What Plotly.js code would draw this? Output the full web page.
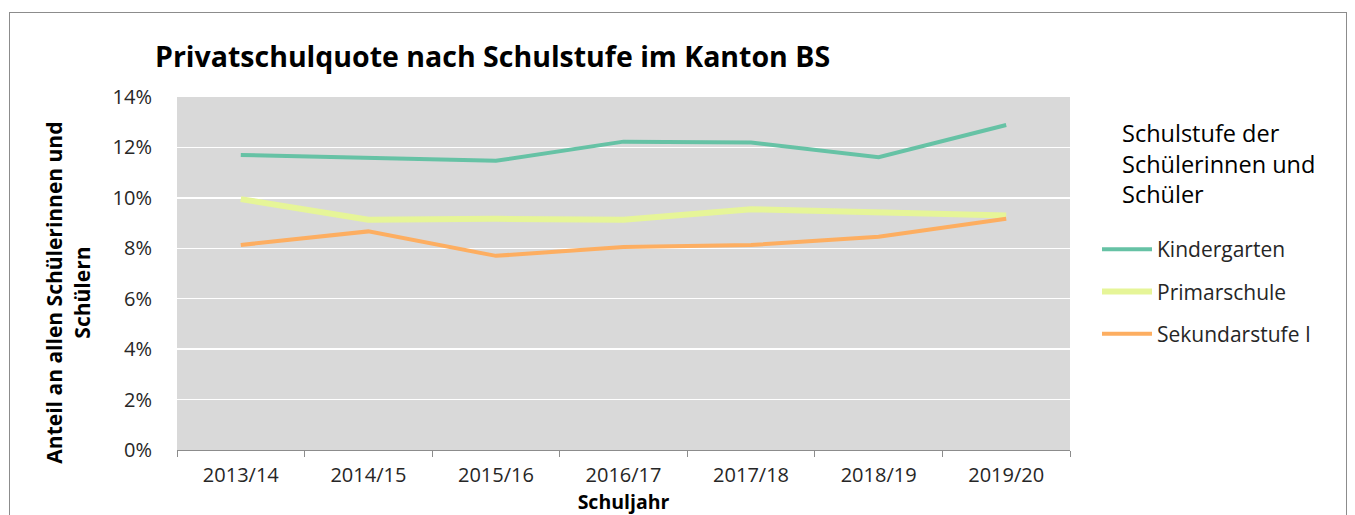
<!DOCTYPE html>
<html>
<head>
<meta charset="utf-8">
<script src="https://cdn.plot.ly/plotly-3.0.1.min.js"></script>
<style>
html,body{margin:0;padding:0;background:#fff;}
#frame{position:absolute;left:9px;top:12px;width:1338px;height:520px;border:1.5px solid #8c8c8c;box-sizing:border-box;}
#chart{position:absolute;left:0;top:0;width:1355px;height:515px;}
</style>
</head>
<body>
<div id="frame"></div>
<div id="chart"></div>
<script>
const years = ["2013/14","2014/15","2015/16","2016/17","2017/18","2018/19","2019/20"];
const kindergarten = [0.1170,0.1159,0.1147,0.1223,0.1220,0.1161,0.1289];
const primarschule = [0.0995,0.0913,0.0917,0.0913,0.0955,0.0943,0.0930];
const sekundarstufe = [0.0813,0.0867,0.0770,0.0805,0.0813,0.0846,0.0917];
const yTicks = [0,0.02,0.04,0.06,0.08,0.10,0.12,0.14];
const yTickText = ["0%","2%","4%","6%","8%","10%","12%","14%"];
const legendTitle = "Schulstufe der<br>Schülerinnen und<br>Schüler";

const FONT = "Open Sans, Noto Sans, sans-serif";
const PAD = "&nbsp;&nbsp;&nbsp;&nbsp;&nbsp;&nbsp;&nbsp;";

const traces = [
  {x: years, y: kindergarten, name: "Kindergarten", mode: "lines", legendgroup: "a",
   line: {color: "#66C2A5", width: 4}},
  {x: years, y: primarschule, name: "Primarschule", mode: "lines", legendgroup: "b",
   line: {color: "#E6F598", width: 6}},
  {x: years, y: sekundarstufe, name: "Sekundarstufe I", mode: "lines", legendgroup: "c",
   line: {color: "#FDAE61", width: 4}}
];

const layout = {
  width: 1355, height: 515,
  margin: {l: 177, r: 285, t: 97, b: 65},
  paper_bgcolor: "rgba(0,0,0,0)",
  plot_bgcolor: "#D9D9D9",
  font: {family: FONT, color: "#404040", size: 20},
  title: {text: "<b>Privatschulquote nach Schulstufe im Kanton BS</b>",
          font: {family: FONT, size: 28.5, color: "#000"},
          x: 155/1355, xanchor: "left", y: 1-57/515, yanchor: "middle"},
  xaxis: {type: "category", range: [-0.5, 6.5], tickson: "boundaries", ticks: "outside", ticklen: 6,
          tickcolor: "#8c8c8c", showline: true, linecolor: "#8c8c8c", linewidth: 1,
          showgrid: false, zeroline: false, ticklabelstandoff: 7,
          tickfont: {family: FONT, size: 20, color: "#262626"},
          title: {text: "<b>Schuljahr</b>", font: {family: FONT, size: 19.5, color: "#000"}, standoff: 4}},
  yaxis: {range: [0, 0.14], tickvals: yTicks, ticktext: yTickText,
          showgrid: true, gridcolor: "#ffffff", gridwidth: 1.5, zeroline: false,
          showline: false, ticks: "", ticklabelstandoff: 24,
          tickfont: {family: FONT, size: 20, color: "#262626"},
          title: {text: "<b>Anteil an allen Schülerinnen und" + PAD + "<br>Schülern" + PAD + "</b>",
                  font: {family: FONT, size: 21, color: "#000"}, standoff: 16}},
  legend: {x: (1097-177)/893, xanchor: "left", y: (450-229)/353, yanchor: "top",
           bgcolor: "rgba(0,0,0,0)", tracegroupgap: 12,
           font: {family: FONT, size: 21, color: "#262626"},
           itemwidth: 50},
  annotations: [{text: legendTitle, xref: "paper", yref: "paper",
                 x: (1120-177)/893, xanchor: "left", y: (450-115)/353, yanchor: "top",
                 align: "left", showarrow: false,
                 font: {family: FONT, size: 23.5, color: "#000"}}],
  showlegend: true
};

Plotly.newPlot("chart", traces, layout, {displayModeBar: false, staticPlot: true});
</script>
</body>
</html>
